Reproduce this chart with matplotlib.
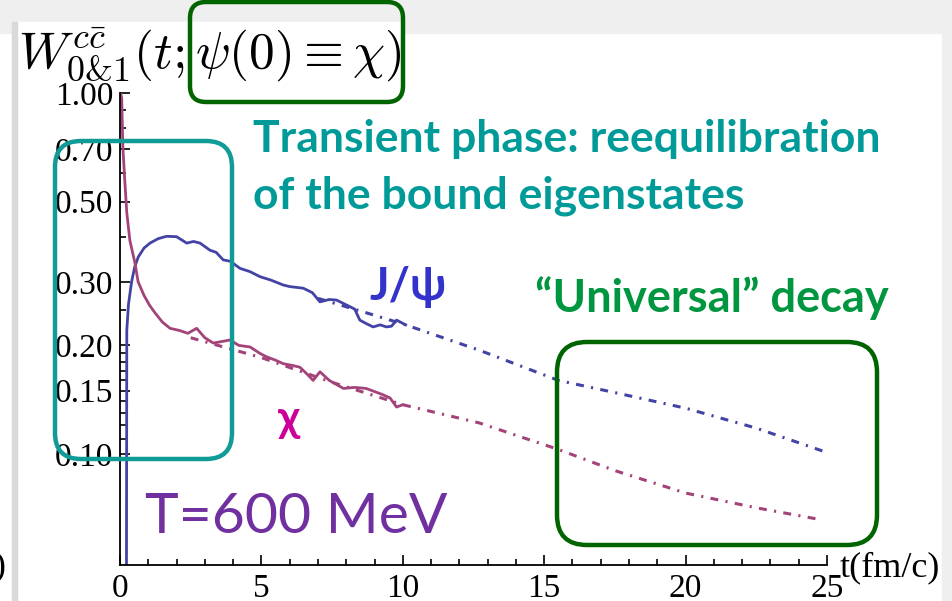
import matplotlib.pyplot as plt
from matplotlib.patches import FancyBboxPatch, Rectangle
from matplotlib.transforms import Affine2D
from matplotlib.ticker import NullFormatter

plt.rcParams['mathtext.fontset'] = 'cm'

# --- data ---
t_chi = [0.02, 0.06, 0.1, 0.17, 0.24, 0.35, 0.53, 0.64, 0.85, 1.05, 1.24, 1.5,
         1.77, 2.1, 2.4, 2.71, 3.0, 3.3, 3.6, 3.89, 4.2, 4.6, 4.95, 5.18, 5.5,
         5.77, 6.1, 6.36, 6.6, 6.83, 7.07, 7.4, 7.9, 8.3, 8.7, 9.0, 9.3, 9.55,
         9.78, 10.0]
chi = [1.0, 0.97, 0.71, 0.57, 0.466, 0.39, 0.338, 0.30, 0.275, 0.258, 0.246,
       0.232, 0.223, 0.22, 0.216, 0.223, 0.21, 0.203, 0.205, 0.207, 0.2, 0.198,
       0.19, 0.186, 0.182, 0.178, 0.176, 0.174, 0.167, 0.16, 0.169, 0.16,
       0.152, 0.153, 0.152, 0.149, 0.146, 0.143, 0.135, 0.137]

t_jpsi = [0.2, 0.24, 0.3, 0.41, 0.52, 0.65, 0.85, 1.06, 1.35, 1.65, 2.0, 2.36,
          2.6, 2.83, 3.18, 3.4, 3.65, 3.9, 4.24, 4.6, 4.95, 5.35, 5.77, 6.0,
          6.48, 6.8, 7.07, 7.4, 7.66, 8.13, 8.3, 8.48, 8.7, 8.95, 9.2, 9.42,
          9.6, 9.78, 10.1]
jpsi = [0.001, 0.22, 0.26, 0.30, 0.33, 0.352, 0.372, 0.384, 0.395, 0.401, 0.40,
        0.384, 0.388, 0.384, 0.367, 0.362, 0.345, 0.342, 0.327, 0.32, 0.31,
        0.303, 0.294, 0.291, 0.288, 0.28, 0.264, 0.268, 0.267, 0.256, 0.252,
        0.235, 0.23, 0.225, 0.228, 0.225, 0.226, 0.235, 0.228]

t_fit_jpsi = [7.0, 8.8, 10.1, 12.7, 15.5, 17.5, 20.0, 22.5, 25.0]
fit_jpsi = [0.27, 0.245, 0.228, 0.194, 0.160, 0.148, 0.134, 0.118, 0.101]

t_fit_chi = [2.5, 5.0, 7.5, 10.0, 12.7, 15.5, 17.5, 20.0, 22.5, 24.7]
fit_chi = [0.21, 0.185, 0.158, 0.137, 0.122, 0.103, 0.090, 0.078, 0.071, 0.066]

y_major = [0.10, 0.15, 0.20, 0.30, 0.50, 0.70, 1.00]
y_major_labels = ['0.10', '0.15', '0.20', '0.30', '0.50', '0.70', '1.00']
y_minor = [0.11, 0.12, 0.13, 0.14, 0.16, 0.17, 0.18, 0.19, 0.25, 0.4, 0.6,
           0.8, 0.9]
x_major = [0, 5, 10, 15, 20, 25]

W, H = 952, 601
fig = plt.figure(figsize=(W / 100, H / 100), dpi=100)
px = Affine2D().scale(1, -1).translate(0, H)  # pixel coords, origin top-left

# slide background bits
fig.add_artist(Rectangle((0, 0), W, 33, color='#efefef', transform=px, zorder=-2))
fig.add_artist(Rectangle((17, 22), 386, 12, color='white', transform=px, zorder=-1))
fig.add_artist(Rectangle((942, 0), 10, H, color='#efefef', transform=px, zorder=-1))
fig.add_artist(Rectangle((12, 22), 5, H, color='#d9d9d9', transform=px, zorder=-1))

ax = fig.add_axes([120 / W, (H - 565) / H, 707 / W, 472 / H])
blue = '#4343a6'
mag = '#a3437a'
dd = (0, (2.6, 2.4, 0.7, 2.4))
ax.plot(t_jpsi, jpsi, color=blue, lw=2)
ax.plot(t_chi, chi, color=mag, lw=2)
ax.plot(t_fit_jpsi, fit_jpsi, color=blue, lw=2.2, ls=dd)
ax.plot(t_fit_chi, fit_chi, color=mag, lw=2.2, ls=dd)

ax.set_yscale('log')
ax.set_xlim(0, 25)
ax.set_ylim(0.0493, 1.0)
for s in ['top', 'right']:
    ax.spines[s].set_visible(False)
for s in ['left', 'bottom']:
    ax.spines[s].set_linewidth(1.3)

ax.set_yticks(y_major)
ax.set_yticklabels(y_major_labels)
ax.set_yticks(y_minor, minor=True)
ax.yaxis.set_minor_formatter(NullFormatter())
ax.set_xticks(x_major)
ax.set_xticks(range(0, 26), minor=True)
ax.tick_params(which='both', direction='in', labelsize=24,
               labelfontfamily='Liberation Serif', width=1.2)
ax.tick_params(which='major', length=7)
ax.tick_params(which='minor', length=4)
ax.tick_params(axis='y', pad=5)
ax.tick_params(axis='x', pad=6)

# axis labels
fig.text(18, 68, r'$W^{c\bar{c}}_{0&1}(t;\psi(0)\equiv\chi)$', fontsize=37,
         va='baseline', ha='left', transform=px)
fig.text(840, 576, 't(fm/c)', family='Liberation Serif', fontsize=26,
         va='baseline', ha='left', transform=px)
fig.text(-6, 575, ')', family='Liberation Serif', fontsize=26,
         va='baseline', ha='left', transform=px)

# annotations
sans = ['Lato', 'DejaVu Sans']
teal = '#009b98'
fig.text(253, 152, 'Transient phase: reequilibration', family=sans,
         weight='bold', fontsize=32, color=teal, va='baseline', transform=px)
fig.text(253, 208, 'of the bound eigenstates', family=sans,
         weight='bold', fontsize=32, color=teal, va='baseline', transform=px)
fig.text(370, 300, 'J/\u03c8', family=sans, weight='bold', fontsize=33,
         color='#3333cc', va='baseline', transform=px)
fig.text(535, 312, '\u201cUniversal\u201d decay', family=sans, weight='bold',
         fontsize=32.5, color='#00953f', va='baseline', transform=px)
fig.text(278, 432, '\u03c7', family=sans, weight='bold', fontsize=32,
         color='#cc0099', va='baseline', transform=px)
fig.text(145, 533, 'T=600 MeV', family=sans, fontsize=41, color='#7030a0',
         va='baseline', transform=px)

# highlight boxes
fig.add_artist(FancyBboxPatch((55, 141), 177, 318,
                              boxstyle='round,pad=0,rounding_size=26',
                              ec='#119b97', fc='none', lw=3.2, transform=px))
fig.add_artist(FancyBboxPatch((190, 2), 213, 100,
                              boxstyle='round,pad=0,rounding_size=16',
                              ec='#006400', fc='none', lw=3.2, transform=px))
fig.add_artist(FancyBboxPatch((557, 342), 320, 203,
                              boxstyle='round,pad=0,rounding_size=30',
                              ec='#006400', fc='none', lw=3.2, transform=px))

fig.savefig('out.png', dpi=100)
